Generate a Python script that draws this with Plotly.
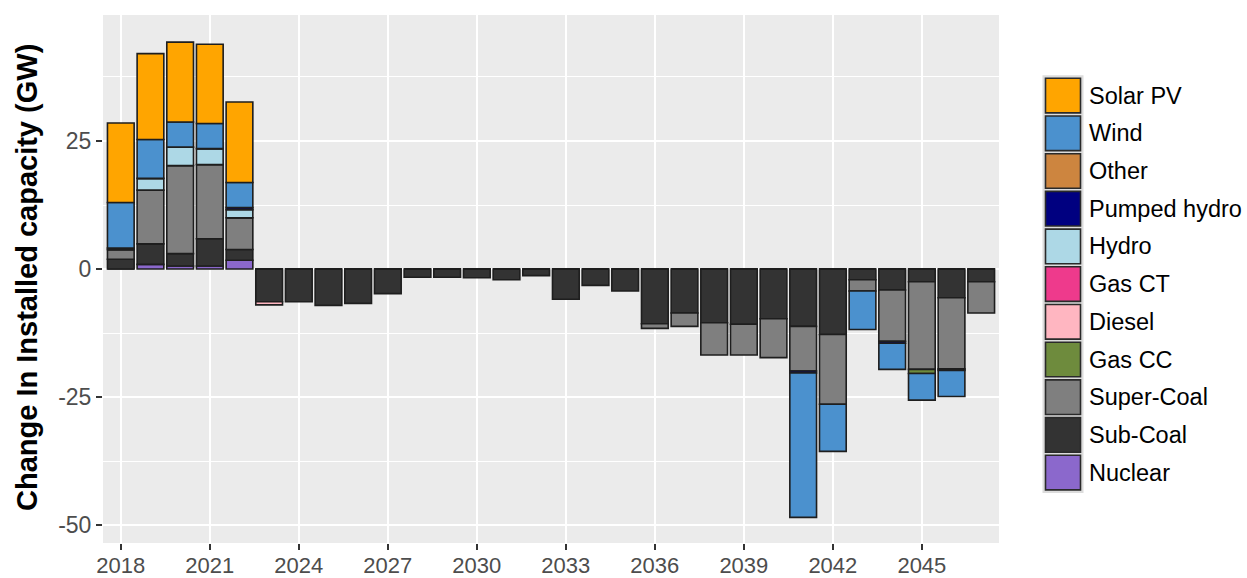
import plotly.graph_objects as go

# ---------------- data ----------------
years = list(range(2018, 2048))

series_names = ["Solar PV", "Wind", "Other", "Pumped hydro", "Hydro", "Gas CT",
                "Diesel", "Gas CC", "Super-Coal", "Sub-Coal", "Nuclear"]
series_colors = ["#FFA500", "#4B91CE", "#CD853F", "#000080", "#ADD8E6", "#EE3A8C",
                 "#FFB6C1", "#6E8B3D", "#7F7F7F", "#333333", "#8B68CC"]

#             2018  2019  2020  2021  2022  2023  2024  2025  2026  2027  2028  2029  2030  2031  2032  2033  2034  2035  2036   2037  2038   2039   2040  2041   2042   2043  2044   2045   2046   2047
solar_pv     = [15.5, 16.75, 15.6, 15.5, 15.7, 0,    0,    0,    0,    0,    0,    0,    0,    0,    0,    0,    0,    0,    0,     0,    0,     0,     0,    0,     0,     0,    0,     0,     0,     0]
wind         = [8.9,  7.6,  4.9,  4.9,  4.9,  0,    0,    0,    0,    0,    0,    0,    0,    0,    0,    0,    0,    0,    0,     0,    0,     0,     0,    -28.2, -9.2,  -7.5, -5.1,  -5.2,  -5.1,  0]
other        = [0] * 30
pumped_hydro = [0.3,  0,    0,    0,    0.4,  0,    0,    0,    0,    0,    0,    0,    0,    0,    0,    0,    0,    0,    0,     0,    0,     0,     0,    -0.4,  0,     0,    -0.4,  0,     -0.3,  0]
hydro        = [0,    2.3,  3.6,  3.1,  1.6,  0,    0,    0,    0,    0,    0,    0,    0,    0,    0,    0,    0,    0,    0,     0,    0,     0,     0,    0,     0,     0,    0,     0,     0,     0]
gas_ct       = [0] * 30
diesel       = [0,    0,    0,    0,    0,    -0.6, 0,    0,    0,    0,    0,    0,    0,    0,    0,    0,    0,    0,    0,     0,    0,     0,     0,    0,     0,     0,    0,     0,     0,     0]
gas_cc       = [0,    0,    0,    0,    0,    0,    0,    0,    0,    0,    0,    0,    0,    0,    0,    0,    0,    0,    0,     0,    0,     0,     0,    0,     0,     0,    0,     -0.8,  0,     0]
super_coal   = [1.9,  10.5, 17.2, 14.5, 6.2,  0,    0,    0,    0,    0,    0,    0,    0,    0,    0,    0,    0,    0,    -0.9,  -2.6, -6.3,  -6.0,  -7.6, -8.7,  -13.6, -2.2, -10.0, -17.1, -13.9, -6.1]
sub_coal     = [1.9,  4.0,  2.4,  5.3,  2.1,  -6.4, -6.4, -7.1, -6.7, -4.8, -1.6, -1.6, -1.7, -2.1, -1.3, -5.9, -3.2, -4.3, -10.7, -8.6, -10.5, -10.8, -9.7, -11.2, -12.8, -2.1, -4.1,  -2.5,  -5.6,  -2.5]
nuclear      = [0,    0.9,  0.6,  0.6,  1.7,  0,    0,    0,    0,    0,    0,    0,    0,    0,    0,    0,    0,    0,    0,     0,    0,     0,     0,    0,     0,     0,    0,     0,     0,     0]

series_values = [solar_pv, wind, other, pumped_hydro, hydro, gas_ct,
                 diesel, gas_cc, super_coal, sub_coal, nuclear]

y_ticks = [-50, -25, 0, 25]
y_tick_labels = ["-50", "-25", "0", "25"]
x_ticks = list(range(2018, 2046, 3))
y_title = "Change In Installed capacity (GW)"

# ---------------- layout constants ----------------
W, H = 1247, 578
ML, MR, MT, MB = 103, 248, 15, 35
PW, PH = W - ML - MR, H - MT - MB


def px_x(px):
    return (px - ML) / PW


def px_y(py):
    return (H - MB - py) / PH


fig = go.Figure()

# traces in stacking order: closest to zero first (Nuclear) ... Solar PV last
for name, color, vals in reversed(list(zip(series_names, series_colors, series_values))):
    fig.add_trace(go.Bar(
        x=years, y=vals, name=name,
        marker=dict(color=color, line=dict(color="#1E1E1E", width=1.6)),
        showlegend=False,
    ))

# ---------------- manual legend (large ggplot-style keys) ----------------
key_x0, key_x1 = 1045.5, 1080.5
first_top, step, key_h = 78.3, 37.7, 34.6
shapes = [dict(type="rect", xref="paper", yref="paper",
               x0=px_x(1042.5), x1=px_x(1083.5),
               y0=px_y(first_top - 3), y1=px_y(first_top + step * 10 + key_h + 3),
               fillcolor="#DCDCDC", line=dict(width=0), layer="above")]
annotations = []
for i, (name, color) in enumerate(zip(series_names, series_colors)):
    top = first_top + step * i
    shapes.append(dict(type="rect", xref="paper", yref="paper",
                       x0=px_x(key_x0), x1=px_x(key_x1),
                       y0=px_y(top + key_h), y1=px_y(top),
                       fillcolor=color, line=dict(color="#2A2A2A", width=1.6),
                       layer="above"))
    annotations.append(dict(xref="paper", yref="paper", x=px_x(1087),
                            y=px_y(top + key_h / 2), text=name, showarrow=False,
                            xanchor="left", yanchor="middle",
                            font=dict(family="Liberation Sans, Arial", size=23.5, color="#000000")))

annotations.append(dict(xref="paper", yref="paper", x=px_x(27), y=px_y(278),
                        text="<b>" + y_title + "</b>", textangle=-90, showarrow=False,
                        xanchor="center", yanchor="middle",
                        font=dict(family="Liberation Sans, Arial", size=29, color="#000000")))

fig.update_layout(
    width=W, height=H,
    margin=dict(l=ML, r=MR, t=MT, b=MB, pad=0, autoexpand=False),
    barmode="relative",
    bargap=0.1,
    plot_bgcolor="#EBEBEB",
    paper_bgcolor="#FFFFFF",
    font=dict(family="Liberation Sans, Arial", size=23, color="#4D4D4D"),
    shapes=shapes,
    annotations=annotations,
    showlegend=False,
)

fig.update_xaxes(
    range=[2017.4, 2047.6],
    tickvals=x_ticks,
    ticks="outside", ticklen=6, tickwidth=1.5, tickcolor="#333333",
    tickfont=dict(size=22, color="#4D4D4D"),
    ticklabelstandoff=-3,
    showgrid=True, gridcolor="#FFFFFF", gridwidth=2,
    zeroline=False, showline=False, automargin=False,
)
fig.update_yaxes(
    range=[-53.5, 49.6],
    tickvals=y_ticks, ticktext=y_tick_labels,
    ticks="outside", ticklen=6, tickwidth=1.5, tickcolor="#333333",
    tickfont=dict(size=23, color="#4D4D4D"),
    showgrid=True, gridcolor="#FFFFFF", gridwidth=2,
    minor=dict(tick0=0, dtick=12.5, showgrid=True, gridcolor="#FFFFFF", gridwidth=1.1, ticks=""),
    zeroline=False, showline=False, automargin=False,
)

fig.write_html("out.html", config={"displayModeBar": False},
               post_script="document.body.style.margin='0';document.body.style.overflow='hidden';")
